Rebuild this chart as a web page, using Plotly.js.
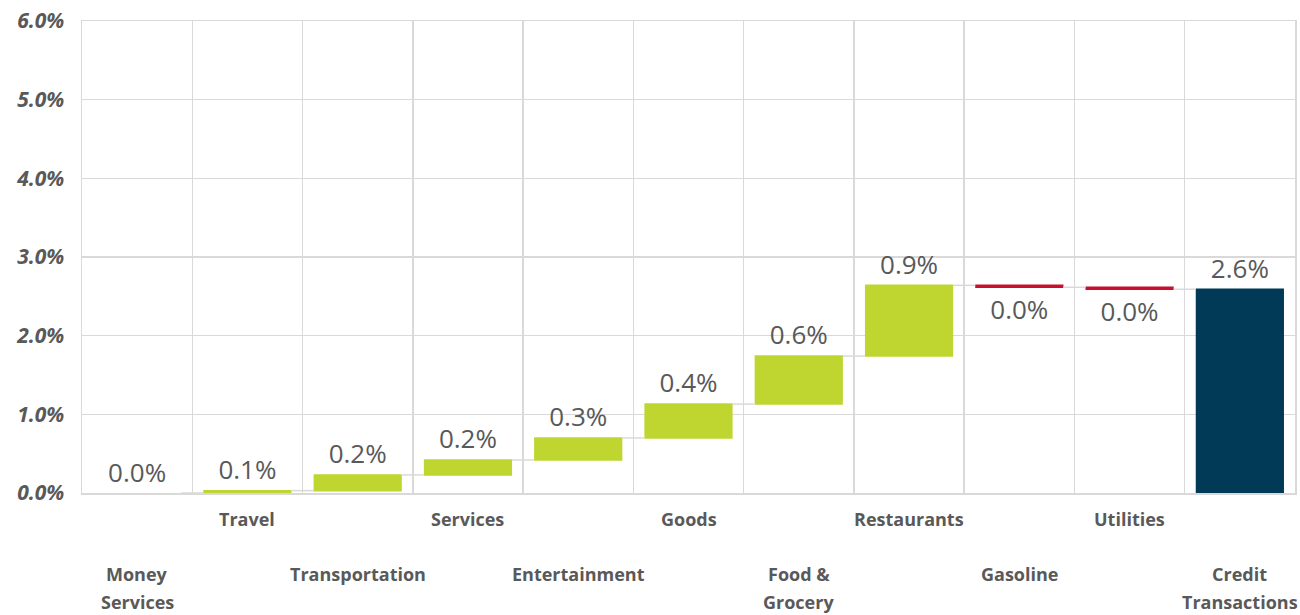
<!DOCTYPE html>
<html>
<head>
<meta charset="utf-8">
<script src="https://cdn.plot.ly/plotly-3.0.1.min.js"></script>
<style>html,body{margin:0;padding:0;background:#fff}#chart{width:1300px;height:615px}</style>
</head>
<body>
<div id="chart"></div>
<script>
// Categories (line breaks mark wrapped labels)
const categories = ["Money\nServices", "Travel", "Transportation", "Services", "Entertainment", "Goods", "Food &\nGrocery", "Restaurants", "Gasoline", "Utilities", "Credit\nTransactions"];
// Contribution to growth (fraction), last is total
const values = [0.0000, 0.0003, 0.0020, 0.0019, 0.0028, 0.0043, 0.0061, 0.0090, -0.00025, -0.00025, 0];
const measures = ["relative", "relative", "relative", "relative", "relative", "relative", "relative", "relative", "relative", "relative", "total"];
const valueLabels = ["0.0%", "0.1%", "0.2%", "0.2%", "0.3%", "0.4%", "0.6%", "0.9%", "0.0%", "0.0%", "2.6%"];
// Which row each x label is drawn in (0 = upper, 1 = lower)
const labelRows = [1, 0, 1, 0, 1, 0, 1, 0, 1, 0, 1];

const keys = categories.map(c => c.replace("\n", " "));

const trace = {
  type: "waterfall",
  x: keys,
  y: values,
  measure: measures,
  text: valueLabels,
  textposition: "outside",
  textfont: {family: "Open Sans, sans-serif", size: 26, color: "#595959"},
  cliponaxis: false,
  increasing: {marker: {color: "#BED62F"}},
  decreasing: {marker: {color: "#C8102E"}},
  totals: {marker: {color: "#003A57"}},
  connector: {mode: "between", line: {color: "#D9D9D9", width: 1.5}},
  hoverinfo: "none"
};

const annotations = [];
categories.forEach((c, i) => {
  const lines = c.split("\n");
  const base = labelRows[i] === 0 ? 26 : 81;
  lines.forEach((ln, j) => {
    annotations.push({
      x: keys[i], xref: "x", y: 0, yref: "paper",
      text: ln, showarrow: false, xanchor: "center", yanchor: "middle",
      yshift: -(base + j * 28),
      font: {family: "Open Sans, sans-serif", size: 18, color: "#595959", weight: "bold"}
    });
  });
});

const layout = {
  width: 1300, height: 615,
  margin: {l: 82, r: 5, t: 21, b: 122},
  paper_bgcolor: "#ffffff", plot_bgcolor: "#ffffff",
  showlegend: false,
  bargap: 0.19,
  xaxis: {
    type: "category",
    range: [-0.5, keys.length - 0.5],
    automargin: false,
    showticklabels: false,
    tickson: "boundaries",
    ticks: "",
    showgrid: true, gridcolor: "#D9D9D9", gridwidth: 1.5,
    showline: true, linecolor: "#D9D9D9", linewidth: 1.5, mirror: true,
    zeroline: false
  },
  yaxis: {
    automargin: false,
    range: [0, 0.06],
    dtick: 0.01,
    tickformat: ".1%",
    showgrid: true, gridcolor: "#D9D9D9", gridwidth: 1.5,
    showline: true, linecolor: "#D9D9D9", linewidth: 1.5, mirror: true,
    zeroline: false,
    ticks: "",
    ticklabelstandoff: 12,
    tickfont: {family: "Open Sans, sans-serif", size: 21, color: "#595959", weight: "bold", style: "italic"}
  },
  annotations: annotations
};

Plotly.newPlot("chart", [trace], layout, {staticPlot: true, displayModeBar: false});
</script>
</body>
</html>
